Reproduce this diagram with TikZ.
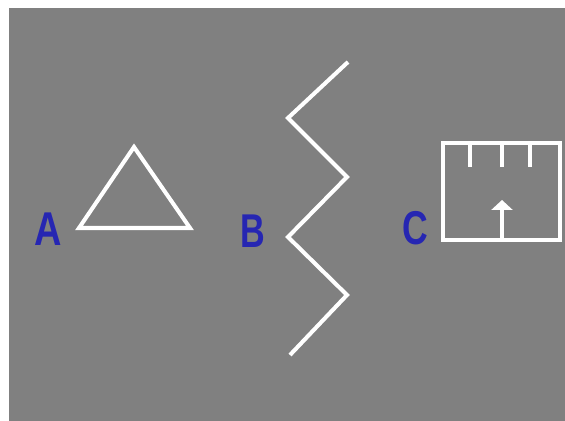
\documentclass[tikz,border=0pt]{standalone}
\usepackage{fontspec}
\setmainfont{Liberation Sans}
\usepackage{xcolor}
\usetikzlibrary{arrows.meta,positioning,calc}
\definecolor{panelgray}{RGB}{128,128,128}
\definecolor{letterblue}{RGB}{38,38,178}

\begin{document}
\begin{tikzpicture}[x=0.02cm, y=-0.02cm,
    letter/.style={text=letterblue, inner sep=0pt, font=\bfseries\fontsize{27}{28}\selectfont},
    stroke/.style={draw=white, line width=2.3pt, line join=miter}]

    % Background
    \useasboundingbox (0,0) rectangle (565,421);
    \fill[white] (0,0) rectangle (565,421);
    \fill[panelgray] (9,8) rectangle (565,421);

    % Labels
    \node[letter] (labA) at (48,229) {\scalebox{0.8}[1]{A}};
    \node[letter] (labB) at (253,231) {\scalebox{0.72}[1]{B}};
    \node[letter] (labC) at (415,228) {\scalebox{0.75}[1]{C}};

    % A: triangle
    \draw[stroke] (134,147) -- (190,228) -- (79,228) -- cycle;

    % B: zigzag
    \draw[stroke] (348,62) -- (288,118) -- (347,177) -- (288,237) -- (347,295) -- (290,355);

    % C: box with ticks and arrow
    \draw[stroke] (443,143) rectangle (560,240);
    \foreach \tx in {470,502,530}
        \draw[stroke] (\tx,143) -- (\tx,167);
    \coordinate (arrowfoot) at (502,240);
    \coordinate (arrowtip) at (502,200);
    \draw[stroke, -{Triangle[width=0.42cm, length=0.2cm]}] (arrowfoot) -- (arrowtip);

\end{tikzpicture}
\end{document}
